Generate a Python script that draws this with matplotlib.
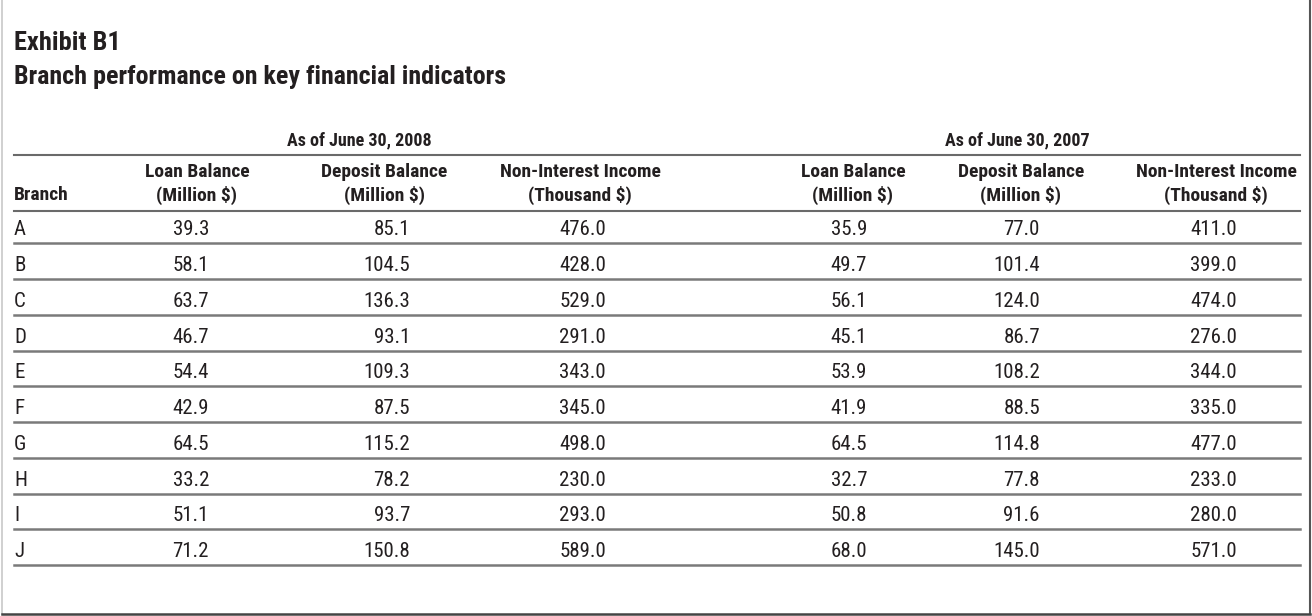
import matplotlib
matplotlib.use('Agg')
import matplotlib.pyplot as plt
from matplotlib import font_manager

# table data
branches = ['A', 'B', 'C', 'D', 'E', 'F', 'G', 'H', 'I', 'J']
loan_2008 = [39.3, 58.1, 63.7, 46.7, 54.4, 42.9, 64.5, 33.2, 51.1, 71.2]
deposit_2008 = [85.1, 104.5, 136.3, 93.1, 109.3, 87.5, 115.2, 78.2, 93.7, 150.8]
income_2008 = [476.0, 428.0, 529.0, 291.0, 343.0, 345.0, 498.0, 230.0, 293.0, 589.0]
loan_2007 = [35.9, 49.7, 56.1, 45.1, 53.9, 41.9, 64.5, 32.7, 50.8, 68.0]
deposit_2007 = [77.0, 101.4, 124.0, 86.7, 108.2, 88.5, 114.8, 77.8, 91.6, 145.0]
income_2007 = [411.0, 399.0, 474.0, 276.0, 344.0, 335.0, 477.0, 233.0, 280.0, 571.0]

col_headers = [('Loan Balance', '(Million $)'), ('Deposit Balance', '(Million $)'),
               ('Non-Interest Income', '(Thousand $)')]
periods = ['As of June 30, 2008', 'As of June 30, 2007']
title = 'Exhibit B1'
subtitle = 'Branch performance on key financial indicators'

# pick a condensed font if there is one
available = set(f.name for f in font_manager.fontManager.ttflist)
font = 'DejaVu Sans'
for name in ['Roboto Condensed', 'Liberation Sans Narrow', 'Open Sans Condensed', 'Liberation Sans']:
    if name in available:
        font = name
        break
plt.rcParams['font.family'] = [font, 'DejaVu Sans']

TXT = '#231f20'
W, H = 1312, 616

fig = plt.figure(figsize=(W / 100, H / 100), dpi=100)
ax = fig.add_axes([0, 0, 1, 1])
ax.set_xlim(0, W)
ax.set_ylim(H, 0)
ax.axis('off')

# frame (left, right, bottom only)
ax.plot([1.5, 1.5], [0, H - 2], color='#c8c8c8', lw=1.2)
ax.plot([W - 2, W - 2], [0, H - 2], color='#555555', lw=1.5)
ax.plot([1.5, W - 2], [H - 2.5, H - 2.5], color='#444444', lw=1.8)

left = 14
ax.text(left, 43, title, fontsize=19, fontweight='bold', color=TXT, va='center', ha='left')
ax.text(left, 77, subtitle, fontsize=18.7, fontweight='bold', color=TXT, va='center', ha='left')

# period headers
period_x = [359, 1017]
for px, p in zip(period_x, periods):
    ax.text(px, 140, p, fontsize=13, fontweight='bold', color=TXT, ha='center', va='center')
ax.plot([left, 1300], [155, 155], color='#6a6a6a', lw=1.5)

# column headers
head_x = [197, 384, 580, 853, 1021, 1216]
for i, hx in enumerate(head_x):
    top, bottom = col_headers[i % 3]
    ax.text(hx, 172, top, fontsize=14, fontweight='bold', color=TXT, ha='center', va='center')
    ax.text(hx, 195, bottom, fontsize=14, fontweight='bold', color=TXT, ha='center', va='center')
ax.text(left, 195, 'Branch', fontsize=14, fontweight='bold', color=TXT, ha='left', va='center')
ax.plot([left, 1300], [210.7, 210.7], color='#6a6a6a', lw=1.5)

# body rows
right_x = [209, 410, 606, 867, 1040, 1237]
columns = [loan_2008, deposit_2008, income_2008, loan_2007, deposit_2007, income_2007]
row_h = 35.75
first_line = 243.3
for r, b in enumerate(branches):
    line_y = first_line + r * row_h
    ty = line_y - 13.5
    ax.text(left, ty, b, fontsize=15, color=TXT, ha='left', va='center')
    for c, col in enumerate(columns):
        ax.text(right_x[c], ty, f'{col[r]:.1f}', fontsize=15, color=TXT, ha='right', va='center')
    ax.plot([left, 1300], [line_y, line_y], color='#7a7a7a', lw=1.8)

fig.savefig('out.png', dpi=100, facecolor='white')
